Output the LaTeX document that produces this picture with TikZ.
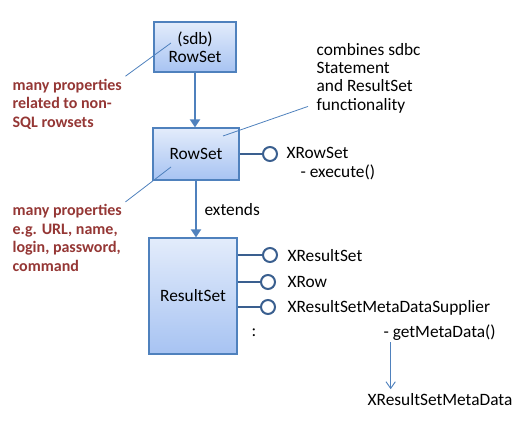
\documentclass[tikz,border=0pt]{standalone}
\usepackage{fontspec}
\setmainfont{Carlito}
\usetikzlibrary{arrows.meta, positioning, calc}
\definecolor{boxtop}{HTML}{E3ECFB}
\definecolor{boxbot}{HTML}{A7C3F2}
\definecolor{boxline}{HTML}{4F81BD}
\definecolor{lolly}{HTML}{3A5F8F}
\definecolor{notered}{HTML}{953735}

\begin{document}
\begin{tikzpicture}[x=0.75pt, y=-0.75pt,
      every node/.style={font=\fontsize{13}{13.7}\selectfont},
      cls/.style={draw=boxline, line width=0.9pt, top color=boxtop,
                  bottom color=boxbot, align=center, inner sep=2pt},
      ifc/.style={circle, draw=lolly, fill=white, line width=1.5pt,
                  minimum size=10.5pt, inner sep=0pt},
      lbl/.style={anchor=west, inner sep=1pt},
      remark/.style={anchor=west, align=left, text=notered,
                     font=\fontsize{12}{13.9}\selectfont\bfseries, inner sep=1pt},
      stick/.style={draw=lolly, line width=1.5pt},
      inh/.style={-{Triangle[length=6pt, width=7.5pt]}, line width=2.2pt, boxline},
      note/.style={boxline, line width=0.6pt},
      ret/.style={-{Straight Barb[length=5pt, width=7pt]}, boxline, line width=0.7pt}
    ]
      \useasboundingbox (0,0) rectangle (530,427);

      % classes
      \node[cls, minimum width=61.5pt, minimum height=37.5pt] (sdbrs) at (195,47) {(sdb)\\RowSet};
      \node[cls, minimum width=64.5pt, minimum height=39pt] (rs) at (196,154) {RowSet};
      \node[cls, minimum width=66pt, minimum height=87pt] (res) at (193,296) {ResultSet};

      \draw[inh] (sdbrs.south) -- (sdbrs.south |- rs.north);
      \draw[inh] (rs.south) -- (rs.south |- res.north);
      \node[lbl] (ext) at (203,210) {extends};

      % interfaces
      \node[ifc] (xrs) at (270,154) {};
      \node[lbl] (xrsl) at (285,153) {XRowSet};
      \node[lbl] (exe) at (299,172) {- execute()};
      \draw[stick] (rs.east |- xrs) -- (xrs);

      \node[ifc] (xres) at (270,255) {};
      \node[ifc] (xrow) at (268,282) {};
      \node[ifc] (xmds) at (268,307) {};
      \node[lbl] (xresl) at (286,256) {XResultSet};
      \node[lbl] (xrowl) at (286,282) {XRow};
      \node[lbl] (xmdsl) at (286,308) {XResultSetMetaDataSupplier};
      \draw[stick] (res.east |- xres) -- (xres);
      \draw[stick] (res.east |- xrow) -- (xrow);
      \draw[stick] (res.east |- xmds) -- (xmds);
      \node[lbl] (dots) at (250,333) {:};
      \node[lbl] (gmd) at (382,333) {- getMetaData()};
      \node (xrsmd) at (440,400) {XResultSetMetaData};
      \draw[ret] ([xshift=6.5pt]gmd.south west) -- ([xshift=6.5pt]gmd.south west |- xrsmd.north);

      % remarks
      \node[remark] (np1) at (11,104) {many properties\\related to non-\\SQL rowsets};
      \node[remark] (np2) at (11,238) {many properties\\e.g. URL, name,\\login, password,\\command};
      \node[anchor=west, align=left, inner sep=1pt] (cmt) at (315,78) {combines sdbc\\Statement\\and ResultSet\\functionality};
      \draw[note] ($(np1.north east)+(2,-1)$) -- ($(sdbrs.center)+(-24,-4)$);
      \draw[note] ($(np2.north east)+(2,-1)$) -- ($(rs.center)+(-25,13)$);
      \draw[note] ($(cmt.south west)+(-7,-8)$) -- ($(rs.center)+(27,-18)$);
    \end{tikzpicture}
\end{document}
